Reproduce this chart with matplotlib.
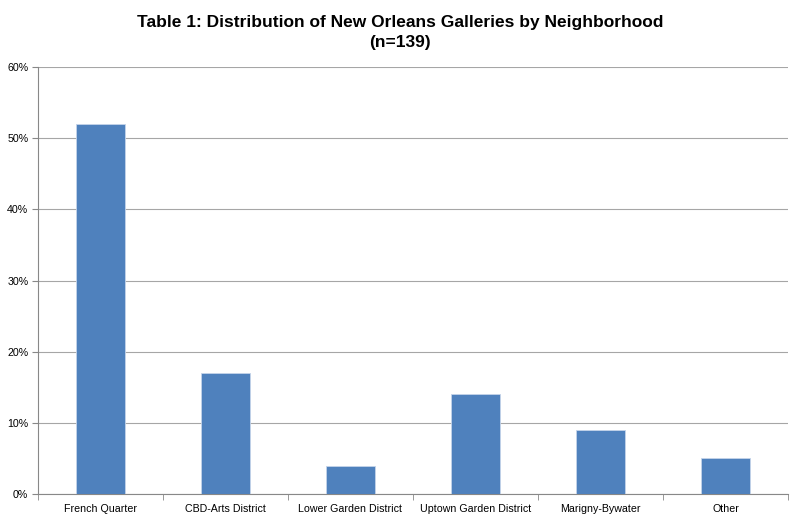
import matplotlib
matplotlib.use("Agg")
import matplotlib.pyplot as plt
from matplotlib.ticker import FuncFormatter

categories = ["French Quarter", "CBD-Arts District", "Lower Garden District",
              "Uptown Garden District", "Marigny-Bywater", "Other"]
values = [52, 17, 4, 14, 9, 5]
yticks = [0, 10, 20, 30, 40, 50, 60]

plt.rcParams['font.family'] = ['Liberation Sans', 'DejaVu Sans']
fig = plt.figure(figsize=(8, 5.21), dpi=100)
ax = fig.add_axes([0.0475, 0.0518, 0.9375, 0.8196])

x = list(range(len(categories)))
ax.bar(x, values, width=0.39, color="#4F81BD", edgecolor="#C5D4EA", linewidth=0.6, zorder=3)
ax.set_xlim(-0.5, len(categories) - 0.5)
ax.set_ylim(0, 60)
ax.set_yticks(yticks)
ax.yaxis.set_major_formatter(FuncFormatter(lambda v, p: f"{int(v)}%"))
ax.set_xticks(x)
ax.set_xticklabels(categories)
ax.set_xticks([i + 0.5 for i in range(-1, len(categories))], minor=True)
ax.tick_params(axis='x', which='major', length=0, labelsize=7.7, pad=7)
ax.tick_params(axis='x', which='minor', length=4, color="#888888")
ax.tick_params(axis='y', length=4, color="#888888", labelsize=7.7, pad=3)
ax.grid(axis='y', color="#A6A6A6", linewidth=0.8, zorder=0)
for s in ['top', 'right']:
    ax.spines[s].set_visible(False)
ax.spines['left'].set_color("#888888")
ax.spines['bottom'].set_color("#888888")
fig.suptitle("Table 1: Distribution of New Orleans Galleries by Neighborhood\n(n=139)",
             fontsize=12.5, fontweight='bold', y=0.972, linespacing=1.45)
fig.savefig("out.png", dpi=100)
